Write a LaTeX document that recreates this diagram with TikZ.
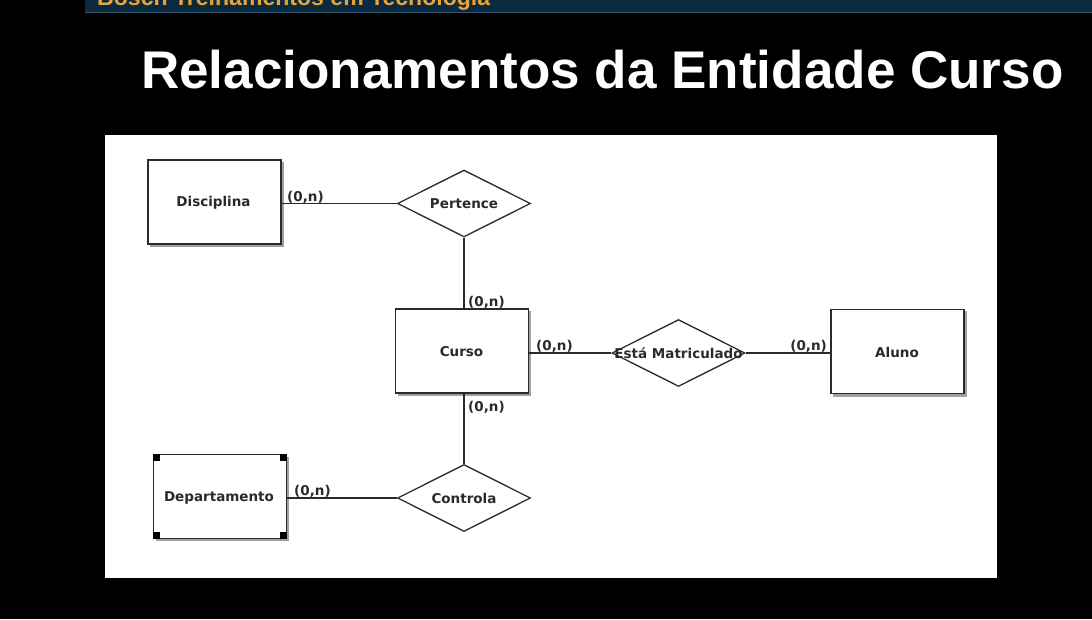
\documentclass[tikz,border=0pt]{standalone}
\usepackage{fontspec}
\setmainfont{Liberation Sans}
\newfontfamily\diafont{DejaVu Sans}
\usetikzlibrary{shapes.geometric,calc}
\definecolor{barblue}{HTML}{0B2A3F}
\definecolor{barline}{HTML}{3A5566}
\definecolor{barorange}{HTML}{E8A33A}
\definecolor{inkgray}{HTML}{2A2A2A}
\definecolor{shadowgray}{HTML}{A0A0A0}
\tikzset{
  entity/.style={draw=inkgray, line width=1.6pt, fill=white, rectangle, inner sep=0pt,
    minimum width=133pt, minimum height=84pt},
  rel/.style={draw=inkgray, line width=1.3pt, fill=white, diamond, aspect=2, inner sep=0pt,
    minimum width=133pt, minimum height=67pt},
  lbl/.style={font=\diafont\bfseries\fontsize{13.5pt}{15pt}\selectfont, text=inkgray, inner sep=0pt},
  card/.style={font=\diafont\bfseries\fontsize{13.5pt}{15pt}\selectfont, text=inkgray, inner sep=1pt},
  link/.style={draw=inkgray, line width=1.3pt},
  shade/.style={fill=shadowgray},
  handle/.style={fill=black}
}
\begin{document}
\begin{tikzpicture}[x=1pt,y=-1pt]
\useasboundingbox (0,0) rectangle (1092,619);
\fill[black] (0,0) rectangle (1092,619);
% top bar
\fill[barblue] (85,0) rectangle (1092,12);
\draw[barline, line width=1pt] (85,12) -- (1092,12);
\node[anchor=base west, inner sep=0pt, text=barorange, font=\bfseries] (bartext) at (97,5)
  {\resizebox{393pt}{!}{Bosch Treinamentos em Tecnologia}};
% title
\node[anchor=base west, inner sep=0pt, text=white, font=\bfseries] (title) at (141,88)
  {\resizebox{922pt}{!}{Relacionamentos da Entidade Curso}};
% white panel
\fill[white] (105,135) rectangle (997,578);
% shadows
\fill[shade] (150,162) rectangle (284,247);
\fill[shade] (398,311) rectangle (531,396);
\fill[shade] (833,311) rectangle (967,397);
\fill[shade] (156,457) rectangle (289,541);
% entities
\node[entity] (disc) at (214.5,202) {};
\node[lbl] (disct) at (213.5,203) {Disciplina};
\node[entity] (curso) at (462,351) {};
\node[lbl] (cursot) at (461.5,352) {Curso};
\node[entity] (aluno) at (897.5,351.5) {};
\node[lbl] (alunot) at (897,352) {Aluno};
\node[entity] (dep) at (220,496.5) {};
\node[lbl] (dept) at (219,497.5) {Departamento};
% handles on Departamento
\fill[handle] (dep.north west) rectangle +(7,7);
\fill[handle] (dep.north east) rectangle +(-7,7);
\fill[handle] (dep.south west) rectangle +(7,-7);
\fill[handle] (dep.south east) rectangle +(-7,-7);
% relationships
\node[rel] (pert) at (464,203.5) {};
\node[lbl] (pertt) at (pert) {Pertence};
\node[rel] (mat) at (678.5,353) {};
\node[lbl] (matt) at (mat) {Está Matriculado};
\node[rel] (ctrl) at (464,498) {};
\node[lbl] (ctrlt) at (ctrl) {Controla};
% links
\draw[link] (disc.east |- pert.west) -- (pert.west);
\draw[link] (pert.south) -- (pert.south |- curso.north);
\draw[link] (curso.east |- mat.west) -- (mat.west);
\draw[link] (mat.east) -- (mat.east -| aluno.west);
\draw[link] (ctrl.north |- curso.south) -- (ctrl.north);
\draw[link] (dep.east |- ctrl.west) -- (ctrl.west);
% cardinalities
\node[card, anchor=south west] (c1) at (286,205) {(0,n)};
\node[card, anchor=south west] (c2) at (467,310) {(0,n)};
\node[card, anchor=south west] (c3) at (535,354) {(0,n)};
\node[card, anchor=south east] (c4) at (828,354) {(0,n)};
\node[card, anchor=north west] (c5) at (467,400) {(0,n)};
\node[card, anchor=south west] (c6) at (293,499) {(0,n)};
\end{tikzpicture}
\end{document}
